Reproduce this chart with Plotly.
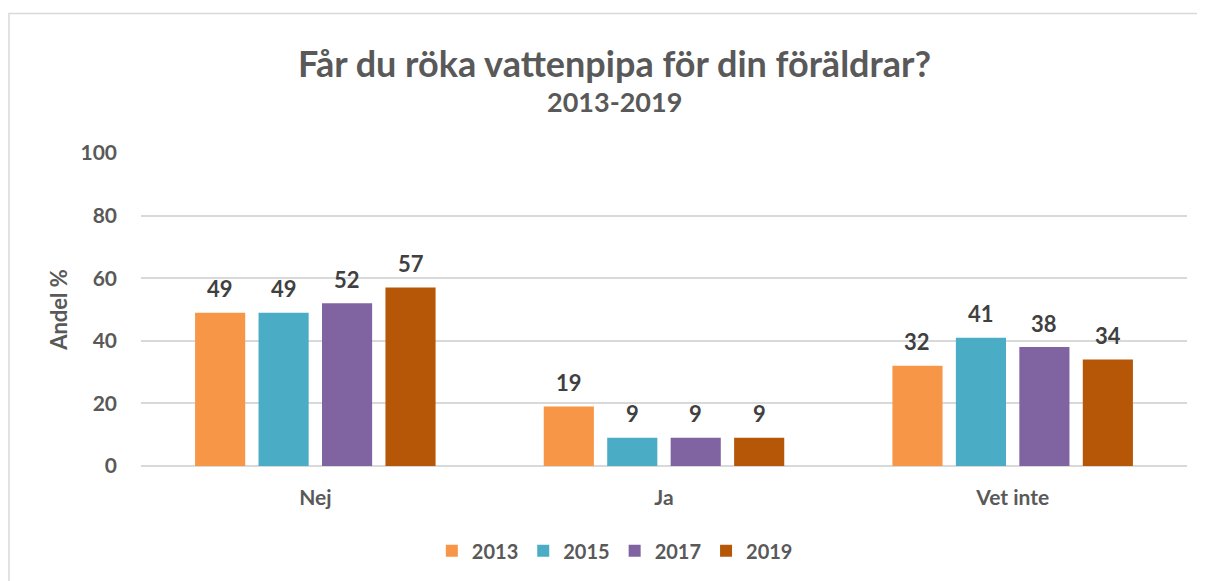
import plotly.graph_objects as go

categories = ["Nej", "Ja", "Vet inte"]
years = ["2013", "2015", "2017", "2019"]
values = {
    "2013": [49, 19, 32],
    "2015": [49, 9, 41],
    "2017": [52, 9, 38],
    "2019": [57, 9, 34],
}
colors = ["#F79646", "#4BACC6", "#8064A2", "#B65708"]
yticks = [0, 20, 40, 60, 80, 100]

FONT = "Lato"
fig = go.Figure()
for yr, c in zip(years, colors):
    fig.add_trace(go.Bar(x=categories, y=values[yr], name=f"<b>{yr}</b>", marker_color=c,
                         marker_line_width=0))

# data labels
slot = 63.5
annotations = []
for i, yr in enumerate(years):
    for cat, v in zip(categories, values[yr]):
        annotations.append(dict(x=cat, y=v, xref="x", yref="y", text=f"<b>{v}</b>",
                                showarrow=False, xshift=(i - 1.5) * slot, yshift=24,
                                yanchor="middle", xanchor="center",
                                font=dict(family=FONT, size=22, color="#404040")))

annotations.append(dict(x=0.453, y=1.287, xref="paper", yref="paper",
                        xanchor="center", yanchor="middle",
                        text="<b>Får du röka vattenpipa för din föräldrar?</b>", showarrow=False,
                        font=dict(family=FONT, size=36, color="#595959")))
annotations.append(dict(x=0.453, y=1.166, xref="paper", yref="paper",
                        xanchor="center", yanchor="middle",
                        text="<b>2013-2019</b>", showarrow=False,
                        font=dict(family=FONT, size=27, color="#595959")))
annotations.append(dict(x=-0.079, y=0.5, xref="paper", yref="paper",
                        xanchor="center", yanchor="middle",
                        text="<b>Andel %</b>", showarrow=False, textangle=-90,
                        font=dict(family=FONT, size=22, color="#595959")))

fig.update_layout(
    width=1197, height=573,
    margin=dict(l=133, r=18, t=145, b=114),
    paper_bgcolor="white", plot_bgcolor="white",
    barmode="group", bargap=0.272, bargroupgap=0.21,
    showlegend=True,
    legend=dict(orientation="h", x=0.453, xanchor="center", y=-0.267, yanchor="middle",
                font=dict(family=FONT, size=20, color="#595959"),
                traceorder="normal", itemwidth=30),
    annotations=annotations,
    shapes=[dict(type="rect", xref="paper", yref="paper", x0=-0.1262, x1=1.2,
                 y0=-0.5, y1=1.446, line=dict(color="#d9d9d9", width=1.5),
                 fillcolor="rgba(0,0,0,0)", layer="below")],
)
fig.update_xaxes(showgrid=False, showline=False, ticks="",
                 tickfont=dict(family=FONT, size=21, color="#595959"),
                 ticklabelstandoff=17,
                 tickvals=categories, ticktext=[f"<b>{c}</b>" for c in categories])
fig.update_yaxes(range=[0, 100], tickvals=yticks, ticktext=[f"<b>{t}</b>" for t in yticks],
                 showgrid=True, gridcolor="#d9d9d9", gridwidth=1.5,
                 zeroline=True, zerolinecolor="#d9d9d9", zerolinewidth=1.5,
                 tickfont=dict(family=FONT, size=21, color="#595959"),
                 ticklabelstandoff=23)

fig.write_html("out.html")
